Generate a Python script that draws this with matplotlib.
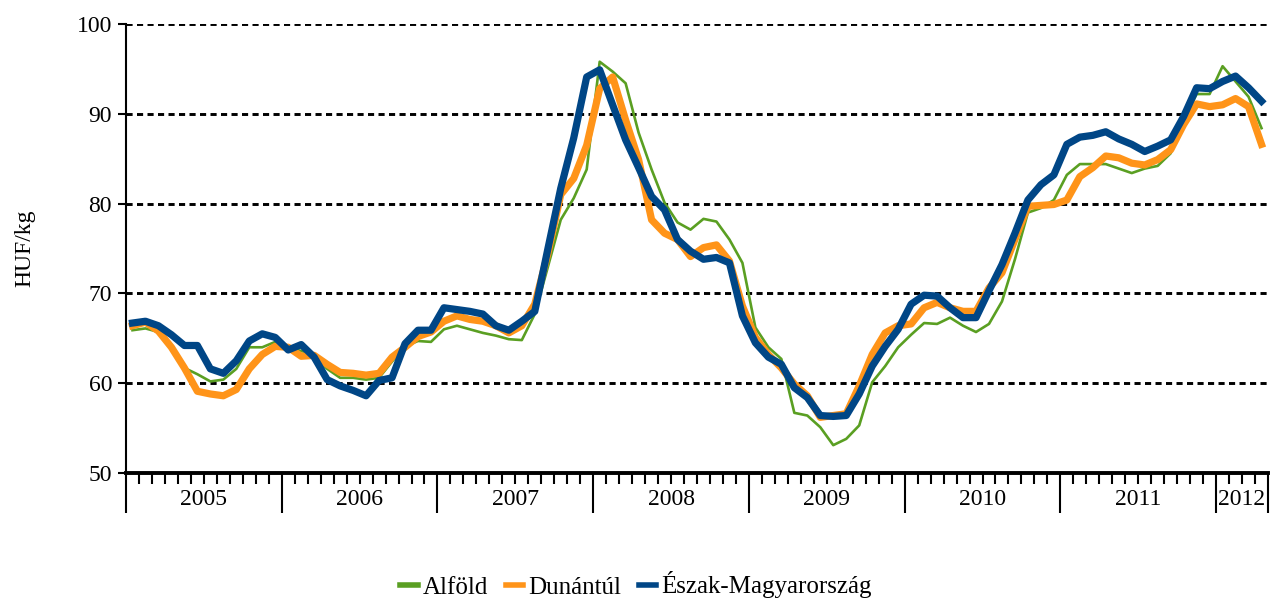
import numpy as np
import matplotlib
matplotlib.use("Agg")
import matplotlib.pyplot as plt

# monthly prices, Jan 2005 - Apr 2012 (HUF/kg)
alfold = [
    65.9, 66.1, 65.7, 64.1, 61.7, 61.0, 60.2, 60.4, 61.6, 64.0, 64.0, 64.6,
    63.9, 63.6, 63.1, 61.6, 60.6, 60.6, 60.4, 60.6, 62.4, 64.1, 64.7, 64.6,
    66.0, 66.4, 66.0, 65.6, 65.3, 64.9, 64.8, 67.7, 72.9, 78.2, 80.6, 83.8,
    95.8, 94.7, 93.4, 87.9, 83.8, 80.1, 77.9, 77.1, 78.3, 78.0, 76.0, 73.4,
    66.2, 64.0, 62.7, 56.7, 56.4, 55.1, 53.1, 53.8, 55.3, 60.1, 61.9, 64.0,
    65.4, 66.7, 66.6, 67.3, 66.4, 65.7, 66.6, 69.1, 73.8, 79.0, 79.5, 80.4,
    83.2, 84.4, 84.4, 84.4, 83.9, 83.4, 83.9, 84.2, 85.6, 89.3, 92.2, 92.2,
    95.3, 93.6, 91.9, 88.4,
]
dunantul = [
    66.4, 66.8, 65.8, 64.0, 61.7, 59.1, 58.8, 58.6, 59.3, 61.6, 63.2, 64.1,
    64.0, 63.0, 63.1, 62.1, 61.2, 61.1, 60.9, 61.1, 62.9, 64.0, 65.2, 65.7,
    66.9, 67.5, 67.1, 66.9, 66.4, 65.6, 66.4, 68.8, 74.4, 81.0, 82.8, 86.5,
    92.8, 94.1, 89.3, 84.9, 78.2, 76.7, 76.0, 74.1, 75.1, 75.4, 73.6, 68.6,
    65.1, 63.2, 61.7, 59.9, 58.6, 56.2, 56.4, 56.6, 59.7, 63.2, 65.6, 66.4,
    66.6, 68.4, 69.0, 68.4, 68.0, 68.0, 70.6, 72.3, 76.0, 79.7, 79.8, 79.9,
    80.4, 83.0, 84.0, 85.3, 85.1, 84.5, 84.3, 84.9, 86.0, 88.8, 91.1, 90.8,
    91.0, 91.7, 90.8, 86.6,
]
eszak = [
    66.7, 66.9, 66.4, 65.4, 64.2, 64.2, 61.6, 61.1, 62.5, 64.7, 65.5, 65.1,
    63.7, 64.3, 62.9, 60.4, 59.7, 59.2, 58.6, 60.3, 60.6, 64.4, 65.9, 65.9,
    68.4, 68.2, 68.0, 67.7, 66.4, 65.9, 66.9, 68.0, 74.9, 81.7, 87.3, 94.1,
    94.9, 91.0, 87.1, 84.0, 80.8, 79.3, 76.0, 74.7, 73.8, 74.0, 73.4, 67.5,
    64.5, 62.9, 62.1, 59.5, 58.4, 56.4, 56.3, 56.4, 58.8, 61.9, 64.1, 66.0,
    68.8, 69.8, 69.7, 68.4, 67.3, 67.3, 70.3, 73.2, 76.7, 80.4, 82.1, 83.2,
    86.6, 87.4, 87.6, 88.0, 87.2, 86.6, 85.8, 86.4, 87.1, 89.7, 92.9, 92.8,
    93.6, 94.2, 92.9, 91.4,
]
years = ["2005", "2006", "2007", "2008", "2009", "2010", "2011", "2012"]
series_names = ["Alföld", "Dunántúl", "Észak-Magyarország"]

plt.rcParams["font.family"] = ["Liberation Serif", "DejaVu Serif"]

n = len(alfold)
x = np.arange(n) + 0.5

fig = plt.figure(figsize=(12.72, 6.03), dpi=100)
ax = fig.add_axes([126 / 1272, 1 - 473 / 603, 1142 / 1272, 449 / 603])

ax.plot(x, alfold, color="#5a9f22", lw=1.9, label=series_names[0])
ax.plot(x, dunantul, color="#ff9419", lw=5.2, label=series_names[1])
ax.plot(x, eszak, color="#004686", lw=5.2, label=series_names[2])

ax.set_xlim(0, n)
ax.set_ylim(50, 100)

# dotted gridlines
for v in [60, 70, 80, 90, 100]:
    ax.axhline(v, color="black", lw=2.1, linestyle=(0, (2.1, 1.5)), zorder=0.5)

ax.set_yticks([50, 60, 70, 80, 90, 100])
ax.tick_params(axis="y", direction="out", length=6, width=1.5, labelsize=17, pad=4)
ax.set_ylabel("HUF/kg", fontsize=17, labelpad=30)

# month ticks and year boundaries
year_edges = list(range(0, n, 12)) + [n]
ax.set_xticks(year_edges)
ax.set_xticklabels([])
ax.set_xticks(np.arange(0, n + 1), minor=True)
ax.tick_params(axis="x", which="major", direction="out", length=29, width=1.5)
ax.tick_params(axis="x", which="minor", direction="out", length=8, width=1.5)

for i, yr in enumerate(years):
    c = (year_edges[i] + year_edges[i + 1]) / 2
    ax.text(c, -0.06, yr, transform=ax.get_xaxis_transform(),
            ha="center", va="center", fontsize=17)

for s in ["top", "right"]:
    ax.spines[s].set_visible(False)
ax.spines["left"].set_linewidth(1.5)
ax.spines["bottom"].set_linewidth(2.8)

leg = fig.legend(loc="center", bbox_to_anchor=(0.5, 1 - 585 / 603), ncol=3,
                 frameon=False, fontsize=18, handlelength=0.7,
                 handletextpad=0.2, columnspacing=0.7)
for h in leg.get_lines():
    h.set_linewidth(4)

fig.savefig("out.png", dpi=100)
